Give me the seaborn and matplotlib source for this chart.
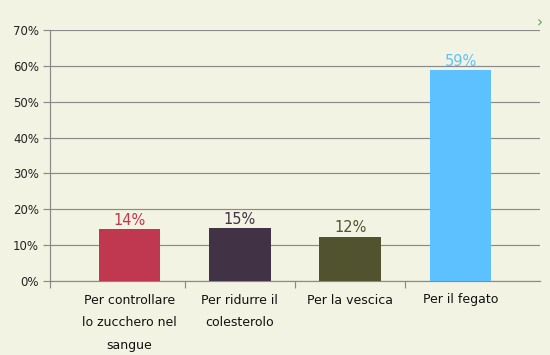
import matplotlib
matplotlib.use('Agg')
import matplotlib.pyplot as plt
import seaborn as sns
import pandas as pd

# chart data
categories = ['Per controllare\nlo zucchero nel\nsangue', 'Per ridurre il\ncolesterolo',
              'Per la vescica', 'Per il fegato']
values = [14.4, 14.8, 12.4, 58.8]
value_labels = ['14%', '15%', '12%', '59%']
colors = ['#C0384F', '#413345', '#50532E', '#5EC1FF']
y_ticks = [0, 10, 20, 30, 40, 50, 60, 70]

bg = '#F3F3E3'
grid_col = '#8A8A8A'

sns.set_style('white')
plt.rcParams['font.family'] = ['DejaVu Sans']

df = pd.DataFrame({'cat': categories, 'val': values})

fig = plt.figure(figsize=(5.5, 3.55), dpi=100, facecolor=bg)
ax = fig.add_axes([50/550, 1 - 281/355, 490/550, 251/355])
ax.set_facecolor(bg)

sns.barplot(data=df, x='cat', y='val', hue='cat', palette=colors,
            width=0.56, legend=False, ax=ax, saturation=1, linewidth=0, zorder=3)

ax.set_ylim(0, 70)
ax.set_xlim(-0.72, 3.72)
ax.set_yticks(y_ticks)
ax.set_yticklabels([f'{t}%' for t in y_ticks], fontsize=8.5, color='#222222')
ax.yaxis.grid(True, color=grid_col, linewidth=0.85, zorder=0)
ax.set_axisbelow(True)
ax.tick_params(axis='y', left=True, length=5, width=0.85, color=grid_col, pad=3)

# category labels as major ticks (no tick), boundaries as minor ticks
ax.set_xticks(range(len(categories)))
ax.set_xticklabels(categories, fontsize=9, color='#111111', linespacing=1.95, va='top')
ax.tick_params(axis='x', which='major', bottom=True, length=0, pad=9)
ax.set_xticks([-0.72, 0.5, 1.5, 2.5], minor=True)
ax.tick_params(axis='x', which='minor', bottom=True, length=5, width=0.85, color=grid_col)
ax.set_xlabel('')
ax.set_ylabel('')

for s in ['top', 'right']:
    ax.spines[s].set_visible(False)
for s in ['left', 'bottom']:
    ax.spines[s].set_color(grid_col)
    ax.spines[s].set_linewidth(0.85)

for i, (v, lab) in enumerate(zip(values, value_labels)):
    ax.text(i, v + 0.3, lab, ha='center', va='bottom', fontsize=10.5, color=colors[i])

fig.text(540/550, 1 - 23/355, '›', color='#55AA55', fontsize=11, ha='center', va='center')

fig.savefig('out.png', dpi=100, facecolor=bg)
